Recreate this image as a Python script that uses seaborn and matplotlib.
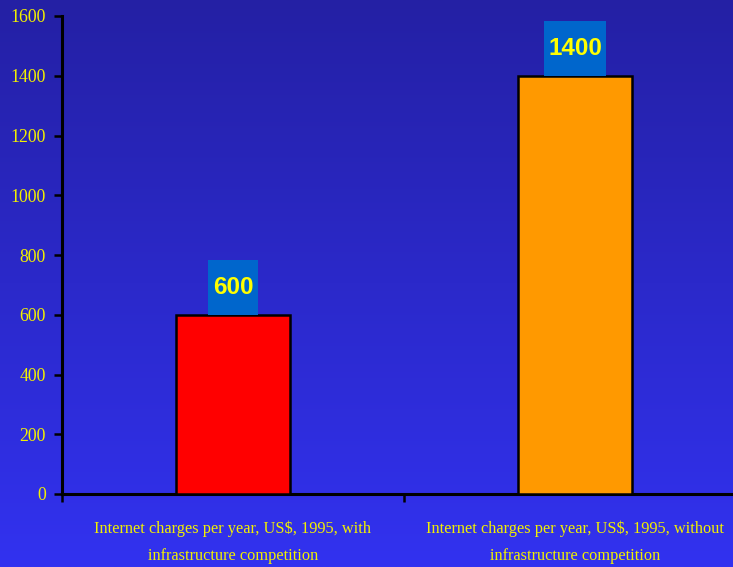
import numpy as np
import pandas as pd
import matplotlib
matplotlib.use("Agg")
import matplotlib.pyplot as plt
import seaborn as sns
from matplotlib import font_manager
from matplotlib.patches import Rectangle

categories = ["Internet charges per year, US$, 1995, with\ninfrastructure competition",
              "Internet charges per year, US$, 1995, without\ninfrastructure competition"]
values = [600, 1400]
bar_colors = ["#ff0000", "#ff9900"]
y_ticks = [0, 200, 400, 600, 800, 1000, 1200, 1400, 1600]

sns.set_theme(style="white")
names = {f.name for f in font_manager.fontManager.ttflist}
if "Liberation Sans Narrow" in names:
    val_family, val_size = "Liberation Sans Narrow", 20
else:
    val_family, val_size = "Liberation Sans", 17.5
plt.rcParams['font.family'] = ['Liberation Serif', 'DejaVu Serif']

W, H = 733, 567
fig = plt.figure(figsize=(W / 100, H / 100), dpi=100)

# gradient background
bg = fig.add_axes([0, 0, 1, 1], zorder=-10)
top = np.array([36, 32, 164]) / 255
bot = np.array([50, 50, 240]) / 255
t = np.linspace(0, 1, 256)[:, None]
grad = (top[None, :] * (1 - t) + bot[None, :] * t)[:, None, :]
bg.imshow(grad, aspect="auto", extent=[0, 1, 0, 1])
bg.set_axis_off()

ax = fig.add_axes([62 / W, (H - 494) / H, (746 - 62) / W, (494 - 16) / H])
ax.patch.set_alpha(0)

df = pd.DataFrame({"cat": categories, "val": values})
sns.barplot(data=df, x="cat", y="val", hue="cat", palette=bar_colors, legend=False,
            width=0.333, edgecolor="black", linewidth=1.8, ax=ax, saturation=1, zorder=3)

ax.set_xlim(-0.5, 1.5)
ax.set_ylim(0, 1600)
ax.set_yticks(y_ticks)
ax.set_yticklabels([str(v) for v in y_ticks])
ax.set_xticks([-0.5, 0.5, 1.5])
ax.set_xticklabels([])
ax.set_xticks([0, 1], minor=True)
ax.set_xticklabels(categories, minor=True)
ax.set_xlabel("")
ax.set_ylabel("")

for s in ["top", "right"]:
    ax.spines[s].set_visible(False)
for s in ["left", "bottom"]:
    ax.spines[s].set_color("black")
    ax.spines[s].set_linewidth(2.2)

ax.tick_params(axis="y", which="major", direction="out", length=5.5, width=1.8,
               color="black", left=True, labelsize=12.8, labelcolor="#f2f000", pad=6)
ax.tick_params(axis="x", which="major", direction="out", length=6, width=1.8,
               color="black", bottom=True)
ax.tick_params(axis="x", which="minor", length=0, labelsize=11.8, labelcolor="#f2f000", pad=19)
for lbl in ax.get_xticklabels(minor=True):
    lbl.set_linespacing(1.95)

# value labels with blue boxes
fig.canvas.draw()
renderer = fig.canvas.get_renderer()
inv = ax.transData.inverted()
for i, v in enumerate(values):
    x_disp, y_disp = ax.transData.transform((i, v))
    box_h = 55
    cy = y_disp + box_h / 2
    _, cy_data = inv.transform((x_disp, cy))
    txt = ax.text(i, cy_data, str(v), ha="center", va="center", fontsize=val_size,
                  fontweight="bold", color="#ffff00", family=[val_family, "DejaVu Sans"], zorder=6)
    ext = txt.get_window_extent(renderer)
    bw = ext.width + 9
    x0, y0 = inv.transform((x_disp - bw / 2, y_disp))
    x1, y1 = inv.transform((x_disp + bw / 2, y_disp + box_h))
    ax.add_patch(Rectangle((x0, y0), x1 - x0, y1 - y0, facecolor="#0066cc",
                           edgecolor="none", zorder=5, clip_on=False))

fig.savefig("out.png", dpi=100)
